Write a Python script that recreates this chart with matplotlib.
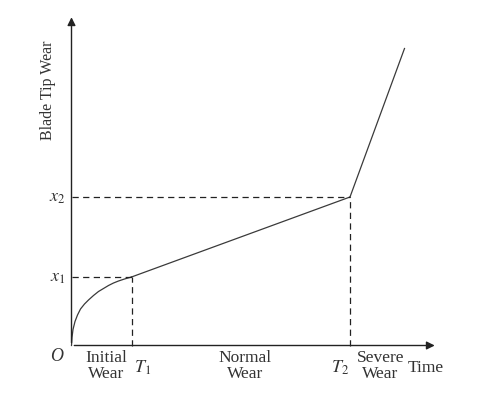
import matplotlib.pyplot as plt

# wear curve (time, wear), arbitrary units
initial_t = [0, 0.5, 1.5, 3.5, 6, 9, 13, 17, 22, 27, 32, 37, 42, 47, 53, 60]
initial_w = [0, 8, 16, 24, 30.5, 36.5, 41.5, 45.5, 50, 54, 57, 60, 62.5, 64.5, 66.5, 68.5]
normal_t = [60, 278.5]
normal_w = [68.5, 148.5]
severe_t = [278.5, 333]
severe_w = [148.5, 297]

T1, T2 = 60, 278.5
x1, x2 = 68.5, 148.5
t_max, w_max = 366, 331

stage_labels = ['Initial\nWear', 'Normal\nWear', 'Severe\nWear']
stage_pos = [35, 174, 309]

plt.rcParams['font.family'] = ['Liberation Serif', 'DejaVu Serif']

fig = plt.figure(figsize=(4.88, 4.0), dpi=100)
ax = fig.add_axes([0, 0, 1, 1])
ax.set_xlim(-71.5, 416.5)
ax.set_ylim(-54.5, 345.5)
ax.axis('off')

line_col = '#3a3a3a'
ax.plot(initial_t, initial_w, color=line_col, lw=0.9)
ax.plot(normal_t, normal_w, color=line_col, lw=0.9)
ax.plot(severe_t, severe_w, color=line_col, lw=0.9)

dash = dict(color='#222222', lw=0.9, dashes=(5, 3.5))
ax.plot([0, T1], [x1, x1], **dash)
ax.plot([T1, T1], [0, x1], **dash)
ax.plot([0, T2], [x2, x2], **dash)
ax.plot([T2, T2], [0, x2], **dash)

arr = dict(arrowstyle='-|>', color='#222222', lw=1.0, mutation_scale=12)
ax.annotate('', xy=(t_max, 0), xytext=(0, 0), arrowprops=arr)
ax.annotate('', xy=(0, w_max), xytext=(0, 0), arrowprops=arr)

txt = '#333333'
ax.text(-8, -11, 'O', style='italic', fontsize=13, ha='right', va='center', color=txt)
ax.text(-6, x1, '$x_1$', fontsize=13, ha='right', va='center', color=txt,
        math_fontfamily='stix')
ax.text(-6, x2, '$x_2$', fontsize=13, ha='right', va='center', color=txt,
        math_fontfamily='stix')
ax.text(T1 + 2, -13, '$T_1$', fontsize=13, ha='left', va='top', color=txt,
        math_fontfamily='stix')
ax.text(T2 - 1, -13, '$T_2$', fontsize=13, ha='right', va='top', color=txt,
        math_fontfamily='stix')
for lab, p in zip(stage_labels, stage_pos):
    ax.text(p, -5, lab, fontsize=12.5, ha='center', va='top', color=txt,
            linespacing=0.95)
ax.text(354, -23, 'Time', fontsize=12.5, ha='center', va='center', color=txt)
ax.text(-24, 255, 'Blade Tip Wear', fontsize=11.5, rotation=90,
        ha='center', va='center', color=txt)

fig.savefig('out.png', dpi=100, facecolor='white')
